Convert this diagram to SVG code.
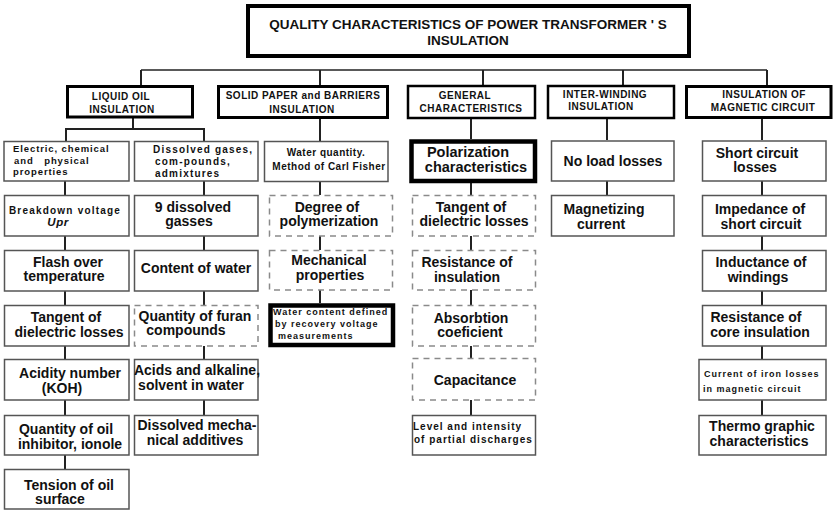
<svg xmlns="http://www.w3.org/2000/svg" width="834" height="510" viewBox="0 0 834 510">
<style>
rect{fill:#fff}
.b{stroke:#555;stroke-width:1.5}
.d{stroke:#8a8a8a;stroke-width:1.5;stroke-dasharray:6 5}
.h{stroke:#000;stroke-width:3}
.k{stroke:#000;stroke-width:4.5}
.ti{stroke:#000;stroke-width:4}
text{font-family:"Liberation Sans",Arial,Helvetica,sans-serif;font-weight:bold;fill:#111;text-anchor:middle}
.m{font-size:14px}
.p{font-size:14.5px}
.s{font-size:9.5px;letter-spacing:0.9px}
.l{text-anchor:start}
.hd{font-size:10px;letter-spacing:0.5px}
.tt{font-size:13.5px}
#connectors line{stroke:#222;stroke-width:2}
#connectors line.top{stroke-width:1.5}
</style>

<g id="connectors">
<line class="top" x1="141" y1="70" x2="767" y2="70"/>
<line x1="141" y1="70" x2="141" y2="85"/>
<line x1="320" y1="70" x2="320" y2="85"/>
<line x1="483" y1="70" x2="483" y2="85"/>
<line x1="623" y1="70" x2="623" y2="85"/>
<line x1="767" y1="70" x2="767" y2="85"/>
<line x1="133" y1="118" x2="133" y2="129"/>
<line x1="65" y1="129" x2="205" y2="129"/>
<line x1="66" y1="129" x2="66" y2="141"/>
<line x1="204" y1="129" x2="204" y2="141"/>
<line x1="65" y1="181" x2="65" y2="195"/>
<line x1="65" y1="236" x2="65" y2="250"/>
<line x1="65" y1="291" x2="65" y2="305"/>
<line x1="65" y1="346" x2="65" y2="359"/>
<line x1="65" y1="400" x2="65" y2="415"/>
<line x1="65" y1="455" x2="65" y2="469"/>
<line x1="204" y1="181" x2="204" y2="195"/>
<line x1="204" y1="236" x2="204" y2="250"/>
<line x1="204" y1="291" x2="204" y2="305"/>
<line x1="204" y1="346" x2="204" y2="359"/>
<line x1="204" y1="400" x2="204" y2="415"/>
<line x1="320" y1="119" x2="320" y2="141"/>
<line x1="320" y1="182" x2="320" y2="195"/>
<line x1="320" y1="236" x2="320" y2="250"/>
<line x1="320" y1="290" x2="320" y2="303"/>
<line x1="471" y1="119" x2="471" y2="139"/>
<line x1="471" y1="183" x2="471" y2="195"/>
<line x1="471" y1="236" x2="471" y2="250"/>
<line x1="471" y1="290" x2="471" y2="305"/>
<line x1="471" y1="346" x2="471" y2="358"/>
<line x1="471" y1="400" x2="471" y2="415"/>
<line x1="607" y1="119" x2="607" y2="140"/>
<line x1="607" y1="181" x2="607" y2="195"/>
<line x1="762" y1="119" x2="762" y2="140"/>
<line x1="762" y1="181" x2="762" y2="195"/>
<line x1="762" y1="236" x2="762" y2="250"/>
<line x1="762" y1="291" x2="762" y2="305"/>
<line x1="762" y1="346" x2="762" y2="359"/>
<line x1="762" y1="400" x2="762" y2="415"/>
</g>

<g id="title">
<rect class="ti" x="248" y="6" width="441" height="50"/>
<text class="tt" x="468" y="29">QUALITY CHARACTERISTICS OF POWER TRANSFORMER ' S</text>
<text class="tt" x="468" y="45">INSULATION</text>
</g>

<g id="liquid-oil">
<rect class="h" x="67.5" y="86.5" width="125" height="30.5"/>
<text class="hd" x="121" y="99.5">LIQUID OIL</text>
<text class="hd" x="122" y="113">INSULATION</text>
</g>
<g id="solid-paper">
<rect class="h" x="218.5" y="86.5" width="169" height="31"/>
<text class="hd" x="303" y="99">SOLID PAPER and BARRIERS</text>
<text class="hd" x="302" y="112.5">INSULATION</text>
</g>
<g id="general">
<rect class="h" x="408" y="86" width="127" height="32" style="stroke-width:2.5"/>
<text class="hd" x="465" y="99">GENERAL</text>
<text class="hd" x="471" y="112">CHARACTERISTICS</text>
</g>
<g id="inter-winding">
<rect class="h" x="548" y="86" width="126" height="32" style="stroke-width:2.5"/>
<text class="hd" x="605" y="97.5">INTER-WINDING</text>
<text class="hd" x="601" y="109.5">INSULATION</text>
</g>
<g id="magnetic">
<rect class="h" x="686.5" y="86.5" width="144.5" height="31"/>
<text class="hd" x="764" y="97.5">INSULATION OF</text>
<text class="hd" x="763" y="111">MAGNETIC CIRCUIT</text>
</g>

<g id="electric">
<rect class="b" x="4" y="141.5" width="125" height="39.5"/>
<text class="s l" x="13" y="151.5">Electric, chemical</text>
<text class="s l" x="14" y="163.5" style="white-space:pre">and   physical</text>
<text class="s l" x="13" y="175">properties</text>
</g>
<g id="dissolved">
<rect class="b" x="134.5" y="141.5" width="123.5" height="39.5"/>
<text class="s l" x="153" y="152.5" style="font-size:10px;letter-spacing:1.2px">Dissolved gases,</text>
<text class="s l" x="155" y="165" style="font-size:10px;letter-spacing:1.2px">com-pounds,</text>
<text class="s l" x="155" y="177" style="font-size:10px;letter-spacing:1.2px">admixtures</text>
</g>
<g id="water-quantity">
<rect class="b" x="264.5" y="141.5" width="123.5" height="40"/>
<text class="s" x="326" y="155.5" style="letter-spacing:0.5px;font-size:10px">Water quantity.</text>
<text class="s" x="329" y="170" style="letter-spacing:0.5px;font-size:10px">Method of Carl Fisher</text>
</g>
<g id="polarization">
<rect class="k" x="411.5" y="141.5" width="123.5" height="39.5"/>
<text class="p" x="468" y="157">Polarization</text>
<text class="p" x="476" y="171.5">characteristics</text>
</g>
<g id="no-load">
<rect class="b" x="551.5" y="141" width="122.5" height="40"/>
<text class="m" x="613" y="165.5">No load losses</text>
</g>
<g id="short-circuit">
<rect class="b" x="702.5" y="141" width="123.5" height="40"/>
<text class="m" x="757" y="158">Short circuit</text>
<text class="m" x="755" y="172">losses</text>
</g>

<g id="breakdown">
<rect class="b" x="4.5" y="195.5" width="124.5" height="40.5"/>
<text class="s" x="65" y="213.5" style="font-size:10px;letter-spacing:1.2px">Breakdown voltage</text>
<text class="m" x="58" y="225.5" style="font-style:italic;font-size:11.5px;letter-spacing:0.5px">Upr</text>
</g>
<g id="nine-gasses">
<rect class="b" x="134.5" y="195.5" width="123.5" height="40.5"/>
<text class="m" x="193" y="211.5">9 dissolved</text>
<text class="m" x="189" y="225.5">gasses</text>
</g>
<g id="degree">
<rect class="d" x="269.5" y="195.5" width="123" height="40.5"/>
<text class="m" x="327" y="211.5">Degree of</text>
<text class="m" x="329" y="226">polymerization</text>
</g>
<g id="tangent-g">
<rect class="d" x="412.5" y="195.5" width="123" height="40.5"/>
<text class="m" x="471" y="211.5">Tangent of</text>
<text class="m" x="474" y="226">dielectric losses</text>
</g>
<g id="magnetizing">
<rect class="b" x="551.5" y="195.5" width="122.5" height="40.5"/>
<text class="m" x="604" y="214">Magnetizing</text>
<text class="m" x="601" y="228.5">current</text>
</g>
<g id="impedance">
<rect class="b" x="702.5" y="195.5" width="123.5" height="40.5"/>
<text class="m" x="760" y="213.5">Impedance of</text>
<text class="m" x="761" y="228.5">short circuit</text>
</g>

<g id="flash">
<rect class="b" x="4.5" y="250.5" width="124.5" height="40.5"/>
<text class="m" x="68" y="267">Flash over</text>
<text class="m" x="64" y="281">temperature</text>
</g>
<g id="content-water">
<rect class="b" x="134.5" y="250.5" width="123.5" height="40.5"/>
<text class="m" x="196" y="273">Content of water</text>
</g>
<g id="mechanical">
<rect class="d" x="269.5" y="250.5" width="123" height="39.5"/>
<text class="m" x="329" y="265">Mechanical</text>
<text class="m" x="330" y="279.5">properties</text>
</g>
<g id="resistance-ins">
<rect class="d" x="412.5" y="250.5" width="123" height="39.5"/>
<text class="m" x="467" y="267">Resistance of</text>
<text class="m" x="467" y="281.5">insulation</text>
</g>
<g id="inductance">
<rect class="b" x="702.5" y="250.5" width="123.5" height="40.5"/>
<text class="m" x="761" y="267">Inductance of</text>
<text class="m" x="758" y="281.5">windings</text>
</g>

<g id="tangent-oil">
<rect class="b" x="4.5" y="305.5" width="124.5" height="40.5"/>
<text class="m" x="66" y="321.5">Tangent of</text>
<text class="m" x="69" y="336.5">dielectric losses</text>
</g>
<g id="furan">
<rect class="d" x="134.5" y="305.5" width="123.5" height="40.5"/>
<text class="m" x="195" y="320.5">Quantity of furan</text>
<text class="m" x="186" y="335">compounds</text>
</g>
<g id="water-content">
<rect class="k" x="270.5" y="305.5" width="122.5" height="39.5"/>
<text class="s l" x="273" y="315" style="font-size:9px;letter-spacing:1px">Water content defined</text>
<text class="s l" x="275" y="326.5" style="font-size:9px;letter-spacing:1px">by recovery voltage</text>
<text class="s l" x="278" y="339" style="font-size:9px;letter-spacing:1px">measurements</text>
</g>
<g id="absorbtion">
<rect class="d" x="412.5" y="305.5" width="123" height="40.5"/>
<text class="m" x="471" y="322.5">Absorbtion</text>
<text class="m" x="470" y="336.5">coeficient</text>
</g>
<g id="resistance-core">
<rect class="b" x="702.5" y="305.5" width="123.5" height="40.5"/>
<text class="m" x="756" y="321.5">Resistance of</text>
<text class="m" x="760" y="336.5">core insulation</text>
</g>

<g id="acidity">
<rect class="b" x="4.5" y="359.5" width="124.5" height="40.5"/>
<text class="m" x="70" y="378">Acidity number</text>
<text class="m" x="62" y="393">(KOH)</text>
</g>
<g id="acids">
<rect class="b" x="134.5" y="359.5" width="123.5" height="40.5"/>
<text class="m" x="197" y="375">Acids and alkaline,</text>
<text class="m" x="191" y="390">solvent in water</text>
</g>
<g id="capacitance">
<rect class="d" x="412.5" y="358.5" width="123" height="41.5"/>
<text class="m" x="475" y="385">Capacitance</text>
</g>
<g id="iron-losses">
<rect class="b" x="699" y="359.5" width="127" height="40.5"/>
<text class="s l" x="704" y="377" style="font-size:9px;letter-spacing:1px">Current of iron losses</text>
<text class="s l" x="703" y="391.5" style="font-size:9px;letter-spacing:1px">in magnetic circuit</text>
</g>

<g id="inhibitor">
<rect class="b" x="4.5" y="415.5" width="124.5" height="39.5"/>
<text class="m" x="66" y="434">Quantity of oil</text>
<text class="m" x="70" y="448.5">inhibitor, ionole</text>
</g>
<g id="mechanical-additives">
<rect class="b" x="134.5" y="415.5" width="123.5" height="39.5"/>
<text class="m" x="197" y="430">Dissolved mecha-</text>
<text class="m" x="195" y="445">nical additives</text>
</g>
<g id="partial-discharges">
<rect class="b" x="412.5" y="415.5" width="123" height="39.5"/>
<text class="s l" x="413" y="429.5" style="font-size:10px;letter-spacing:1px">Level and intensity</text>
<text class="s l" x="414" y="443" style="font-size:10px;letter-spacing:1px">of partial discharges</text>
</g>
<g id="thermo">
<rect class="b" x="699" y="415.5" width="127" height="39.5"/>
<text class="m" x="762" y="430.5">Thermo graphic</text>
<text class="m" x="759" y="446">characteristics</text>
</g>

<g id="tension">
<rect class="b" x="4.5" y="469.5" width="124.5" height="39.5"/>
<text class="m" x="69" y="490">Tension of oil</text>
<text class="m" x="60" y="504">surface</text>
</g>
</svg>
